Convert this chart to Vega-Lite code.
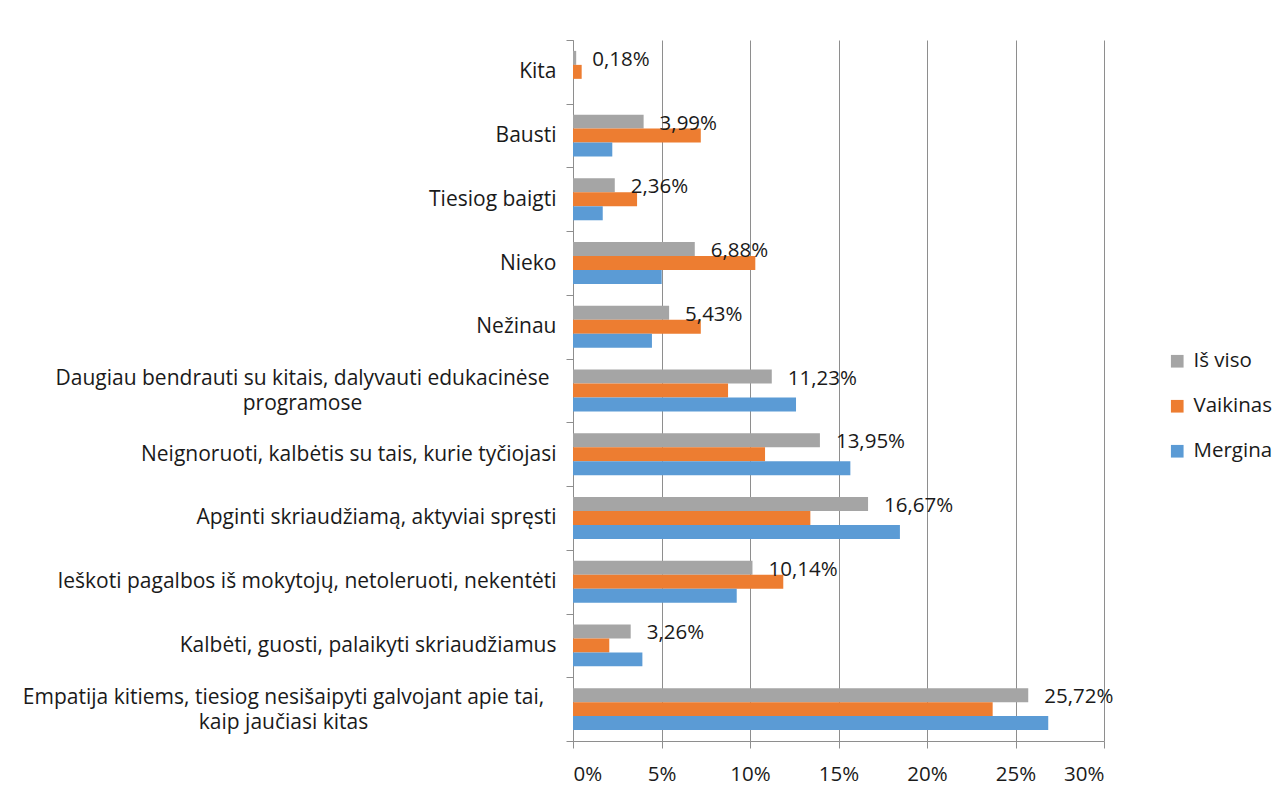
{
  "$schema": "https://vega.github.io/schema/vega-lite/v6.json",
  "autosize": "none",
  "padding": {"left": 573, "top": 40, "right": 181, "bottom": 57},
  "width": 531,
  "height": 701,
  "background": "#ffffff",
  "config": {
    "view": {"stroke": null},
    "font": "Open Sans",
    "locale": {"number": {"decimal": ",", "thousands": " ", "grouping": [3], "currency": ["", " €"]}}
  },
  "data": {"values": [
    {"cat": "Kita", "series": "Iš viso", "v": 0.0018},
    {"cat": "Kita", "series": "Vaikinas", "v": 0.0049},
    {"cat": "Kita", "series": "Mergina", "v": 0},
    {"cat": "Bausti", "series": "Iš viso", "v": 0.0399},
    {"cat": "Bausti", "series": "Vaikinas", "v": 0.0722},
    {"cat": "Bausti", "series": "Mergina", "v": 0.0222},
    {"cat": "Tiesiog baigti", "series": "Iš viso", "v": 0.0236},
    {"cat": "Tiesiog baigti", "series": "Vaikinas", "v": 0.0362},
    {"cat": "Tiesiog baigti", "series": "Mergina", "v": 0.0168},
    {"cat": "Nieko", "series": "Iš viso", "v": 0.0688},
    {"cat": "Nieko", "series": "Vaikinas", "v": 0.1030},
    {"cat": "Nieko", "series": "Mergina", "v": 0.0501},
    {"cat": "Nežinau", "series": "Iš viso", "v": 0.0543},
    {"cat": "Nežinau", "series": "Vaikinas", "v": 0.0722},
    {"cat": "Nežinau", "series": "Mergina", "v": 0.0446},
    {"cat": "Daugiau bendrauti su kitais, dalyvauti edukacinėse|programose", "series": "Iš viso", "v": 0.1123},
    {"cat": "Daugiau bendrauti su kitais, dalyvauti edukacinėse|programose", "series": "Vaikinas", "v": 0.0876},
    {"cat": "Daugiau bendrauti su kitais, dalyvauti edukacinėse|programose", "series": "Mergina", "v": 0.1260},
    {"cat": "Neignoruoti, kalbėtis su tais, kurie tyčiojasi", "series": "Iš viso", "v": 0.1395},
    {"cat": "Neignoruoti, kalbėtis su tais, kurie tyčiojasi", "series": "Vaikinas", "v": 0.1085},
    {"cat": "Neignoruoti, kalbėtis su tais, kurie tyčiojasi", "series": "Mergina", "v": 0.1567},
    {"cat": "Apginti skriaudžiamą, aktyviai spręsti", "series": "Iš viso", "v": 0.1667},
    {"cat": "Apginti skriaudžiamą, aktyviai spręsti", "series": "Vaikinas", "v": 0.1341},
    {"cat": "Apginti skriaudžiamą, aktyviai spręsti", "series": "Mergina", "v": 0.1847},
    {"cat": "Ieškoti pagalbos iš mokytojų, netoleruoti, nekentėti", "series": "Iš viso", "v": 0.1014},
    {"cat": "Ieškoti pagalbos iš mokytojų, netoleruoti, nekentėti", "series": "Vaikinas", "v": 0.1188},
    {"cat": "Ieškoti pagalbos iš mokytojų, netoleruoti, nekentėti", "series": "Mergina", "v": 0.0925},
    {"cat": "Kalbėti, guosti, palaikyti skriaudžiamus", "series": "Iš viso", "v": 0.0326},
    {"cat": "Kalbėti, guosti, palaikyti skriaudžiamus", "series": "Vaikinas", "v": 0.0205},
    {"cat": "Kalbėti, guosti, palaikyti skriaudžiamus", "series": "Mergina", "v": 0.0392},
    {"cat": "Empatija kitiems, tiesiog nesišaipyti galvojant apie tai,|kaip jaučiasi kitas", "series": "Iš viso", "v": 0.2572},
    {"cat": "Empatija kitiems, tiesiog nesišaipyti galvojant apie tai,|kaip jaučiasi kitas", "series": "Vaikinas", "v": 0.2371},
    {"cat": "Empatija kitiems, tiesiog nesišaipyti galvojant apie tai,|kaip jaučiasi kitas", "series": "Mergina", "v": 0.2685}
  ]},
  "encoding": {
    "y": {
      "field": "cat", "type": "nominal", "sort": null,
      "scale": {"paddingInner": 0, "paddingOuter": 0},
      "axis": {
        "title": null,
        "tickBand": "extent",
        "domainColor": "#8e8e8e",
        "tickColor": "#8e8e8e",
        "tickSize": 7,
        "labelFont": "Open Sans",
        "labelFontSize": 21,
        "labelColor": "#1a1a1a",
        "labelLimit": 1000,
        "labelLineHeight": 25,
        "labelExpr": "split(datum.label, '|')",
        "labelAlign": {"condition": {"test": "indexof(datum.label, '|') >= 0", "value": "center"}, "value": "right"},
        "labelOffset": {"condition": {"test": "indexof(datum.label, '|') >= 0", "value": -12}, "value": 0},
        "labelPadding": {"condition": [
          {"test": "indexof(datum.label, 'Daugiau') === 0", "value": 264},
          {"test": "indexof(datum.label, 'Empatija') === 0", "value": 283}
        ], "value": 10}
      }
    },
    "yOffset": {
      "field": "series", "type": "nominal",
      "sort": ["Iš viso", "Vaikinas", "Mergina"],
      "scale": {"paddingInner": 0, "paddingOuter": 0.78}
    },
    "x": {
      "field": "v", "type": "quantitative",
      "scale": {"domain": [0, 0.3], "nice": false},
      "axis": {
        "title": null,
        "format": ".0%",
        "values": [0, 0.05, 0.1, 0.15, 0.2, 0.25, 0.3],
        "grid": true,
        "gridColor": "#8e8e8e",
        "domainColor": "#8e8e8e",
        "tickColor": "#8e8e8e",
        "tickSize": 7,
        "labelFont": "Open Sans",
        "labelFontSize": 20.5,
        "labelColor": "#1a1a1a",
        "labelPadding": 16
      }
    }
  },
  "layer": [
    {
      "mark": {"type": "bar"},
      "encoding": {
        "color": {
          "field": "series", "type": "nominal",
          "scale": {"domain": ["Iš viso", "Vaikinas", "Mergina"], "range": ["#A5A5A5", "#ED7D31", "#5B9BD5"]},
          "legend": {
            "title": null,
            "orient": "none",
            "legendX": 594,
            "legendY": 311,
            "padding": 0,
            "symbolType": "square",
            "symbolSize": 160,
            "symbolStrokeWidth": 0,
            "labelFont": "Open Sans",
            "labelFontSize": 20.5,
            "labelColor": "#1a1a1a",
            "labelOffset": 6,
            "rowPadding": 24
          }
        }
      }
    },
    {
      "transform": [{"filter": "datum.series === 'Iš viso'"}],
      "mark": {"type": "text", "align": "left", "baseline": "middle", "dx": 16, "dy": 2, "font": "Open Sans", "fontSize": 20.5, "color": "#1a1a1a"},
      "encoding": {
        "text": {"field": "v", "type": "quantitative", "format": ".2%"}
      }
    }
  ]
}
